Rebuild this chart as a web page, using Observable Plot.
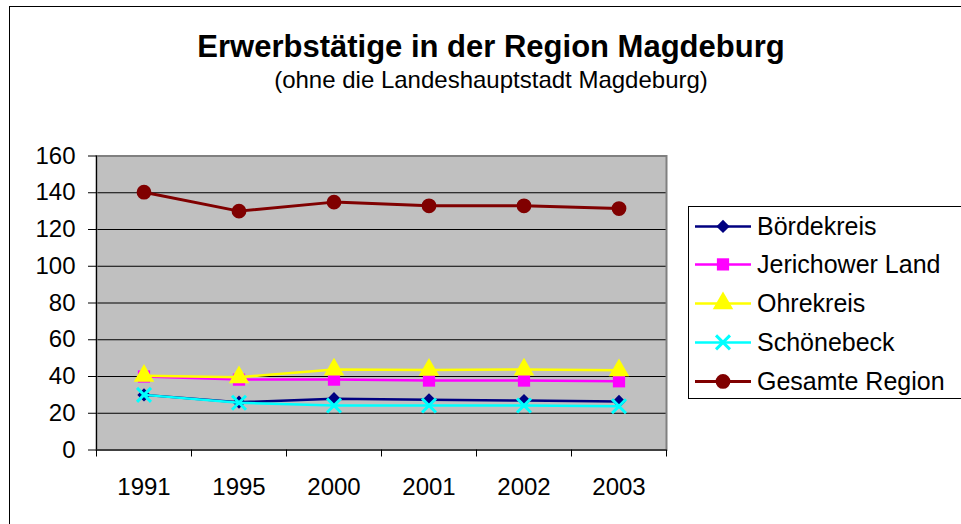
<!DOCTYPE html>
<html>
<head>
<meta charset="utf-8">
<script src="https://cdn.jsdelivr.net/npm/d3@7"></script>
<script src="https://cdn.jsdelivr.net/npm/@observablehq/plot@0.6"></script>
<style>
  html, body { margin: 0; padding: 0; background: #fff; overflow: hidden; }
  body { width: 961px; height: 524px; position: relative; font-family: Arial, "Liberation Sans", sans-serif; }
  #frame { position: absolute; left: 9px; top: 6px; width: 1000px; height: 600px; border: 1px solid #000; box-sizing: border-box; }
  #title { position: absolute; left: 0; width: 982px; top: 31px; text-align: center; font-weight: bold; font-size: 31px; line-height: 31px; color: #000; }
  #subtitle { position: absolute; left: 0; width: 982px; top: 68px; text-align: center; font-size: 24px; line-height: 24px; color: #000; }
  #chart { position: absolute; left: 0; top: 0; }
  #legend { position: absolute; left: 688px; top: 206px; width: 300px; height: 193px; border: 1px solid #000; box-sizing: border-box; background: #fff; }
  .item { position: absolute; left: 0; height: 38.8px; line-height: 38.8px; font-size: 25px; white-space: nowrap; color: #000; }
  .item svg { position: absolute; left: 6px; top: 0; }
  .item span { position: absolute; left: 68px; top: 0; }
</style>
</head>
<body>
<div id="frame"></div>
<div id="title">Erwerbstätige in der Region Magdeburg</div>
<div id="subtitle">(ohne die Landeshauptstadt Magdeburg)</div>
<div id="chart"></div>
<div id="legend"></div>
<script>
// ---- data ----
const years = ["1991", "1995", "2000", "2001", "2002", "2003"];
const seriesNames = ["Bördekreis", "Jerichower Land", "Ohrekreis", "Schönebeck", "Gesamte Region"];
const boerdekreis   = [30.0, 26.0, 27.9, 27.3, 26.9, 26.4];
const jerichower    = [40.0, 38.3, 38.3, 37.8, 37.8, 37.4];
const ohrekreis     = [40.4, 39.6, 43.8, 43.6, 43.8, 43.4];
const schoenebeck   = [30.0, 25.7, 24.2, 24.2, 24.2, 23.8];
const gesamteRegion = [140.3, 130.0, 134.9, 132.9, 132.9, 131.4];
const yTicks = [0, 20, 40, 60, 80, 100, 120, 140, 160];

const seriesValues = [boerdekreis, jerichower, ohrekreis, schoenebeck, gesamteRegion];
const colors  = ["#000080", "#ff00ff", "#ffff00", "#00ffff", "#800000"];
const symbols = ["square", "square", "triangle", "times", "circle"];
const rotates = [45, 0, 0, 0, 0];
const radii   = [5.3, 6.9, 7.6, 6.4, 7.4];
const widths  = [2.5, 2.5, 2.5, 2.5, 3];

const rows = seriesNames.map((name, s) =>
  years.map((yr, i) => ({series: name, year: yr, pos: i + 0.5, value: seriesValues[s][i]}))
);

const seriesMarks = [];
rows.forEach((data, s) => {
  seriesMarks.push(Plot.line(data, {x: "pos", y: "value", stroke: colors[s], strokeWidth: widths[s]}));
  const isStrokeOnly = symbols[s] === "times";
  seriesMarks.push(Plot.dot(data, {
    x: "pos", y: "value", symbol: () => symbols[s], r: radii[s], rotate: rotates[s],
    fill: isStrokeOnly ? "none" : colors[s],
    stroke: isStrokeOnly ? colors[s] : "none",
    strokeWidth: isStrokeOnly ? 3 : 0
  }));
});

const boundaries = d3.range(0, years.length + 1);
const centers = years.map((_, i) => i + 0.5);

const chart = Plot.plot({
  width: 961,
  height: 524,
  marginLeft: 96,
  marginRight: 295,
  marginTop: 155.5,
  marginBottom: 74.5,
  style: {fontFamily: "Arial, 'Liberation Sans', sans-serif", background: "transparent", color: "#000", overflow: "visible"},
  x: {domain: [0, years.length]},
  y: {domain: [0, 160]},
  marks: [
    Plot.frame({fill: "#c0c0c0"}),
    Plot.gridY(yTicks.filter(t => t > 0 && t < 160), {stroke: "#000", strokeOpacity: 1, strokeWidth: 1}),
    Plot.frame({stroke: "#808080", strokeWidth: 2}),
    Plot.ruleX([0], {stroke: "#000", strokeWidth: 1}),
    Plot.ruleY([0], {stroke: "#000", strokeWidth: 1}),
    Plot.axisY({ticks: yTicks, tickSize: 8, tickPadding: 13, fontSize: 24, label: null, stroke: "#000"}),
    Plot.axisX({ticks: boundaries, tickFormat: () => "", tickSize: 7, label: null, stroke: "#000"}),
    Plot.axisX({ticks: centers, tickFormat: d => years[Math.round(d - 0.5)], tickSize: 0, tickPadding: 27.5, fontSize: 24, label: null}),
    ...seriesMarks
  ]
});
document.getElementById("chart").appendChild(chart);

// ---- legend ----
const legend = document.getElementById("legend");
seriesNames.forEach((name, s) => {
  const item = document.createElement("div");
  item.className = "item";
  item.style.top = (-0.5 + s * 38.8) + "px";
  const svg = d3.create("svg").attr("width", 58).attr("height", 38.8);
  svg.append("line").attr("x1", 0).attr("x2", 56).attr("y1", 19.4).attr("y2", 19.4)
    .attr("stroke", colors[s]).attr("stroke-width", widths[s]);
  const sym = {square: d3.symbolSquare, triangle: d3.symbolTriangle, times: d3.symbolTimes, circle: d3.symbolCircle}[symbols[s]];
  const path = d3.symbol(sym, Math.PI * radii[s] * radii[s])();
  const p = svg.append("path").attr("d", path).attr("transform", `translate(28,19.4) rotate(${rotates[s]})`);
  if (symbols[s] === "times") p.attr("fill", "none").attr("stroke", colors[s]).attr("stroke-width", 3);
  else p.attr("fill", colors[s]);
  item.appendChild(svg.node());
  const span = document.createElement("span");
  span.textContent = name;
  item.appendChild(span);
  legend.appendChild(item);
});
</script>
</body>
</html>
